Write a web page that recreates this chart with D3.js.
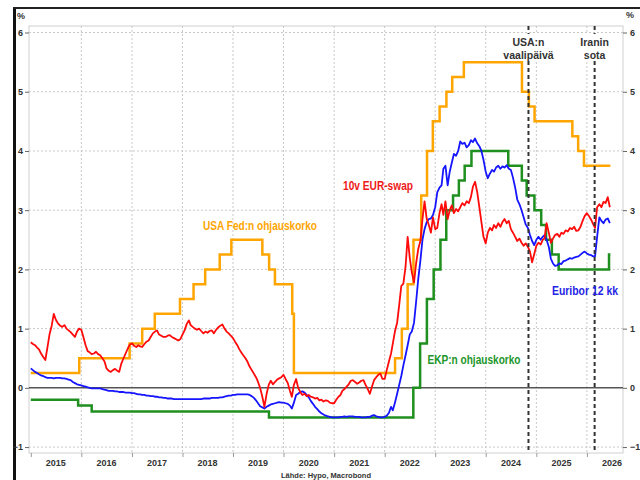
<!DOCTYPE html>
<html><head><meta charset="utf-8">
<script src="https://cdn.jsdelivr.net/npm/d3@7"></script>
<style>
html,body{margin:0;padding:0;background:#fff;}
svg{display:block;font-family:"Liberation Sans",Arial,sans-serif;}
</style></head>
<body><svg id="chart" width="640" height="480"></svg>
<script>
// ---------- DATA ----------
// semi-monthly observations (1st and 16th of each month) starting 1 Jan 2015
const swap10y = [
 0.77,0.74,0.72,0.68,0.65,0.58,0.52,0.47,0.68,0.90,1.05,1.25,1.15,1.09,1.05,1.03,1.06,1.00,0.97,0.94,0.90,0.86,0.95,1.00,
 0.98,0.86,0.72,0.62,0.60,0.57,0.58,0.61,0.57,0.55,0.50,0.45,0.33,0.29,0.27,0.30,0.32,0.29,0.27,0.41,0.50,0.58,0.66,0.73,
 0.75,0.71,0.69,0.72,0.70,0.69,0.74,0.78,0.80,0.86,0.92,0.95,0.97,0.90,0.88,0.86,0.86,0.88,0.89,0.86,0.84,0.82,0.80,0.82,
 0.90,0.97,1.08,1.14,1.06,1.03,1.00,0.98,1.00,0.96,0.92,0.95,0.93,0.96,0.97,0.92,0.98,1.02,1.05,1.07,1.00,0.95,0.92,0.88,
 0.84,0.78,0.72,0.65,0.60,0.55,0.50,0.44,0.36,0.30,0.24,0.18,0.10,0.00,-0.15,-0.32,-0.10,0.05,0.12,0.06,0.10,0.14,0.16,0.18,
 0.22,0.15,0.08,-0.05,-0.15,0.05,0.15,0.00,-0.07,-0.12,-0.10,-0.14,-0.12,-0.15,-0.16,-0.18,-0.17,-0.21,-0.20,-0.23,-0.21,-0.22,-0.25,-0.26,
 -0.26,-0.20,-0.15,-0.12,-0.05,-0.02,0.02,0.06,0.12,0.13,0.10,0.07,0.09,0.12,0.13,0.05,-0.02,-0.10,0.02,0.13,0.18,0.22,0.24,0.15,
 0.15,0.30,0.45,0.58,0.75,0.95,1.10,1.40,1.72,1.76,2.05,2.55,2.20,1.95,1.78,2.10,2.35,2.48,2.85,3.15,2.85,2.75,2.62,2.88,
 2.68,2.70,2.95,3.10,2.92,3.15,2.85,3.00,3.08,2.95,3.02,2.98,3.05,3.12,3.08,3.15,3.12,3.22,3.40,3.48,3.30,3.05,2.80,2.55,
 2.44,2.62,2.70,2.66,2.75,2.70,2.78,2.72,2.80,2.85,2.78,2.82,2.68,2.62,2.55,2.48,2.52,2.45,2.40,2.44,2.38,2.30,2.12,2.25,
 2.40,2.45,2.42,2.50,2.52,2.78,2.62,2.45,2.52,2.58,2.60,2.55,2.62,2.60,2.66,2.64,2.70,2.68,2.72,2.65,2.66,2.72,2.82,2.90,
 2.95,2.90,2.84,2.76,2.70,3.05,3.10,3.05,3.14,3.12,3.22,3.05
];
const euribor12m = [
 0.33,0.30,0.27,0.25,0.23,0.21,0.20,0.18,0.17,0.17,0.17,0.16,0.17,0.17,0.17,0.16,0.16,0.15,0.14,0.13,0.10,0.08,0.06,0.05,
 0.04,0.03,0.02,0.01,0.00,-0.01,-0.01,-0.01,-0.01,-0.01,-0.02,-0.03,-0.04,-0.05,-0.05,-0.05,-0.06,-0.06,-0.07,-0.07,-0.07,-0.08,-0.08,-0.08,
 -0.09,-0.09,-0.10,-0.11,-0.11,-0.12,-0.12,-0.13,-0.13,-0.14,-0.14,-0.15,-0.15,-0.16,-0.16,-0.17,-0.17,-0.18,-0.18,-0.18,-0.19,-0.19,-0.19,-0.19,
 -0.19,-0.19,-0.19,-0.19,-0.19,-0.19,-0.19,-0.19,-0.19,-0.19,-0.18,-0.18,-0.18,-0.18,-0.17,-0.17,-0.17,-0.17,-0.16,-0.16,-0.15,-0.14,-0.13,-0.13,
 -0.12,-0.12,-0.11,-0.11,-0.11,-0.11,-0.11,-0.11,-0.12,-0.14,-0.17,-0.21,-0.26,-0.31,-0.33,-0.35,-0.32,-0.30,-0.28,-0.27,-0.26,-0.25,-0.24,-0.25,
 -0.25,-0.26,-0.27,-0.30,-0.35,-0.25,-0.12,-0.10,-0.07,-0.06,-0.08,-0.12,-0.16,-0.22,-0.27,-0.32,-0.36,-0.40,-0.43,-0.45,-0.47,-0.48,-0.49,-0.50,
 -0.50,-0.50,-0.50,-0.49,-0.49,-0.48,-0.49,-0.48,-0.48,-0.48,-0.49,-0.49,-0.49,-0.50,-0.50,-0.50,-0.49,-0.49,-0.47,-0.46,-0.48,-0.49,-0.50,-0.50,
 -0.49,-0.47,-0.42,-0.32,-0.38,-0.25,-0.10,0.05,0.20,0.38,0.55,0.72,0.90,0.95,1.10,1.45,1.85,2.15,2.50,2.68,2.80,2.85,2.86,2.92,
 3.05,3.30,3.38,3.42,3.70,3.75,3.42,3.65,3.80,3.95,3.92,4.00,4.16,4.12,4.14,4.06,4.10,4.18,4.15,4.21,4.13,4.08,4.00,3.85,
 3.65,3.54,3.62,3.68,3.65,3.72,3.75,3.70,3.74,3.72,3.76,3.70,3.68,3.55,3.38,3.18,3.10,3.00,2.88,2.76,2.70,2.58,2.48,2.41,
 2.50,2.55,2.50,2.55,2.58,2.50,2.38,2.18,2.10,2.06,2.07,2.10,2.09,2.14,2.15,2.17,2.19,2.18,2.20,2.21,2.22,2.25,2.28,2.30,
 2.27,2.25,2.24,2.22,2.22,2.55,2.88,2.82,2.78,2.84,2.86,2.78
];
// Fed funds target (upper bound): change dates and levels
const fedDates = ["2015-01-01","2015-12-17","2016-12-15","2017-03-16","2017-06-15","2017-12-14","2018-03-22","2018-06-14","2018-09-27","2018-12-20",
 "2019-08-01","2019-09-19","2019-10-31","2020-03-04","2020-03-16","2022-03-17","2022-05-05","2022-06-16","2022-07-28","2022-09-22",
 "2022-11-03","2022-12-15","2023-02-02","2023-03-23","2023-05-04","2023-07-27","2024-09-19","2024-11-08","2024-12-19","2025-09-18",
 "2025-10-30","2025-12-11","2026-06-20"];
const fedRates = [0.25,0.50,0.75,1.00,1.25,1.50,1.75,2.00,2.25,2.50,
 2.25,2.00,1.75,1.25,0.25,0.50,1.00,1.75,2.50,3.25,
 4.00,4.50,4.75,5.00,5.25,5.50,5.00,4.75,4.50,4.25,
 4.00,3.75,3.75];
// ECB deposit rate
const ecbDates = ["2015-01-01","2015-12-09","2016-03-16","2019-09-18","2022-07-27","2022-09-14","2022-11-02","2022-12-21","2023-02-08","2023-03-22",
 "2023-05-10","2023-06-21","2023-08-02","2023-09-20","2024-06-12","2024-09-18","2024-10-23","2024-12-18","2025-02-05","2025-03-12",
 "2025-04-23","2025-06-11","2026-06-10","2026-06-20"];
const ecbRates = [-0.20,-0.30,-0.40,-0.50,0.00,0.75,1.50,2.00,2.50,3.00,
 3.25,3.50,3.75,4.00,3.75,3.50,3.25,3.00,2.75,2.50,
 2.25,2.00,2.25,2.25];
const eventDates = ["2024-11-05","2026-02-26"];
const eventLabels = [["USA:n","vaalipäivä"],["Iranin","sota"]];
const yTicks = [-1,0,1,2,3,4,5,6];
const yearLabels = [2015,2016,2017,2018,2019,2020,2021,2022,2023,2024,2025,2026];

// ---------- CHART ----------
const svg = d3.select("#chart");
const parse = d3.timeParse("%Y-%m-%d");
const semiDate = i => new Date(2015 + Math.floor(i/24), Math.floor((i%24)/2), (i%2) ? 16 : 1);

const L = 29, R = 623, T = 26, B = 453;
const x = d3.scaleTime().domain([new Date(2014,11,19), new Date(2026,8,19)]).range([L, R]);
const y = d3.scaleLinear().domain([-1.1, 6.11]).range([B, T]);

// outer frame (left & top)
svg.append("line").attr("x1",14.5).attr("x2",14.5).attr("y1",7).attr("y2",480).attr("stroke","#111").attr("stroke-width",3);
svg.append("line").attr("x1",13).attr("x2",640).attr("y1",8).attr("y2",8).attr("stroke","#222").attr("stroke-width",2);

// plot frame
svg.append("rect").attr("x",L).attr("y",T).attr("width",R-L).attr("height",B-T)
  .attr("fill","none").attr("stroke","#cfcfcf").attr("stroke-width",1);

// grid
const yearTicks = d3.range(2016, 2027).map(yy => new Date(yy,0,1));
svg.append("g").selectAll("line").data(yearTicks).join("line")
  .attr("x1",d=>x(d)).attr("x2",d=>x(d)).attr("y1",T).attr("y2",B)
  .attr("stroke","#c8c8c8").attr("stroke-width",1).attr("stroke-dasharray","2,2");
svg.append("g").selectAll("line").data(yTicks.filter(v=>v!==0)).join("line")
  .attr("x1",L).attr("x2",R).attr("y1",d=>y(d)).attr("y2",d=>y(d))
  .attr("stroke","#c8c8c8").attr("stroke-width",1).attr("stroke-dasharray","2,2");

// axes
const axisStyle = g => {
  g.select(".domain").remove();
  g.selectAll(".tick line").attr("stroke","#666");
  g.selectAll(".tick text").attr("fill","#333").attr("font-weight","bold").attr("font-size",9);
};
svg.append("g").attr("transform",`translate(${L},0)`)
  .call(d3.axisLeft(y).tickValues(yTicks).tickSize(4).tickPadding(2).tickFormat(d3.format("d"))).call(axisStyle);
svg.append("g").attr("transform",`translate(${R},0)`)
  .call(d3.axisRight(y).tickValues(yTicks).tickSize(4).tickPadding(3).tickFormat(d3.format("d"))).call(axisStyle);
const xb = svg.append("g").attr("transform",`translate(0,${B})`)
  .call(d3.axisBottom(x).tickValues(d3.range(2015,2027).map(yy=>new Date(yy,0,1))).tickSize(4).tickFormat(""));
xb.select(".domain").remove(); xb.selectAll(".tick line").attr("stroke","#999");
svg.append("g").selectAll("text").data(yearLabels).join("text")
  .attr("x",d=>x(new Date(d,6,1))).attr("y",466).attr("text-anchor","middle")
  .attr("font-size",9).attr("font-weight","bold").attr("fill","#333").text(d=>d);

svg.append("text").attr("x",17).attr("y",19).attr("font-size",9).attr("font-weight","bold").attr("fill","#333").text("%");
svg.append("text").attr("x",626).attr("y",18).attr("font-size",9).attr("font-weight","bold").attr("fill","#333").text("%");

// zero line
svg.append("line").attr("x1",L).attr("x2",R).attr("y1",y(0)).attr("y2",y(0)).attr("stroke","#555").attr("stroke-width",1.5);

// series
const stepLine = d3.line().x(d=>x(d[0])).y(d=>y(d[1])).curve(d3.curveStepAfter);
const plainLine = d3.line().x(d=>x(d[0])).y(d=>y(d[1]));
const fed = fedDates.map((d,i)=>[parse(d), fedRates[i]]);
const ecb = ecbDates.map((d,i)=>[parse(d), ecbRates[i]]);
const swap = swap10y.map((v,i)=>[semiDate(i), v]);
const eur = euribor12m.map((v,i)=>[semiDate(i), v]);

svg.append("path").attr("d",stepLine(fed)).attr("fill","none").attr("stroke","#FFA500").attr("stroke-width",2.5);
svg.append("path").attr("d",stepLine(ecb)).attr("fill","none").attr("stroke","#1f8f1f").attr("stroke-width",2.5);
svg.append("path").attr("d",plainLine(eur)).attr("fill","none").attr("stroke","#1515ff").attr("stroke-width",1.8).attr("stroke-linejoin","round");
svg.append("path").attr("d",plainLine(swap)).attr("fill","none").attr("stroke","#ff0a0a").attr("stroke-width",1.8).attr("stroke-linejoin","round");

// event lines
eventDates.forEach((d,i)=>{
  const ex = x(parse(d));
  svg.append("line").attr("x1",ex).attr("x2",ex).attr("y1",T).attr("y2",B)
    .attr("stroke","#333").attr("stroke-width",2).attr("stroke-dasharray","4,3");
  svg.append("rect").attr("x",ex-24).attr("y",34).attr("width",48).attr("height",26).attr("fill","#fff");
  eventLabels[i].forEach((t,j)=>{
    svg.append("text").attr("x",ex).attr("y",46+j*12.5).attr("text-anchor","middle")
      .attr("font-size",10.5).attr("font-weight","bold").attr("fill","#333").text(t);
  });
});

// series labels
const lab = (t,x0,yb,w,c)=>svg.append("text").attr("x",x0).attr("y",yb).attr("font-size",12).attr("font-weight","bold")
  .attr("fill",c).attr("textLength",w).attr("lengthAdjust","spacingAndGlyphs").text(t);
lab("USA Fed:n ohjauskorko",203,229.5,114,"#FFA500");
lab("10v EUR-swap",343,189.5,70,"#f01818");
lab("EKP:n ohjauskorko",427.5,363.5,93,"#22962a");
lab("Euribor 12 kk",552,294.5,66,"#2424e6");

svg.append("text").attr("x",326).attr("y",478).attr("text-anchor","middle").attr("font-size",7.5)
  .attr("font-weight","bold").attr("fill","#333").text("Lähde: Hypo, Macrobond");
</script></body></html>
